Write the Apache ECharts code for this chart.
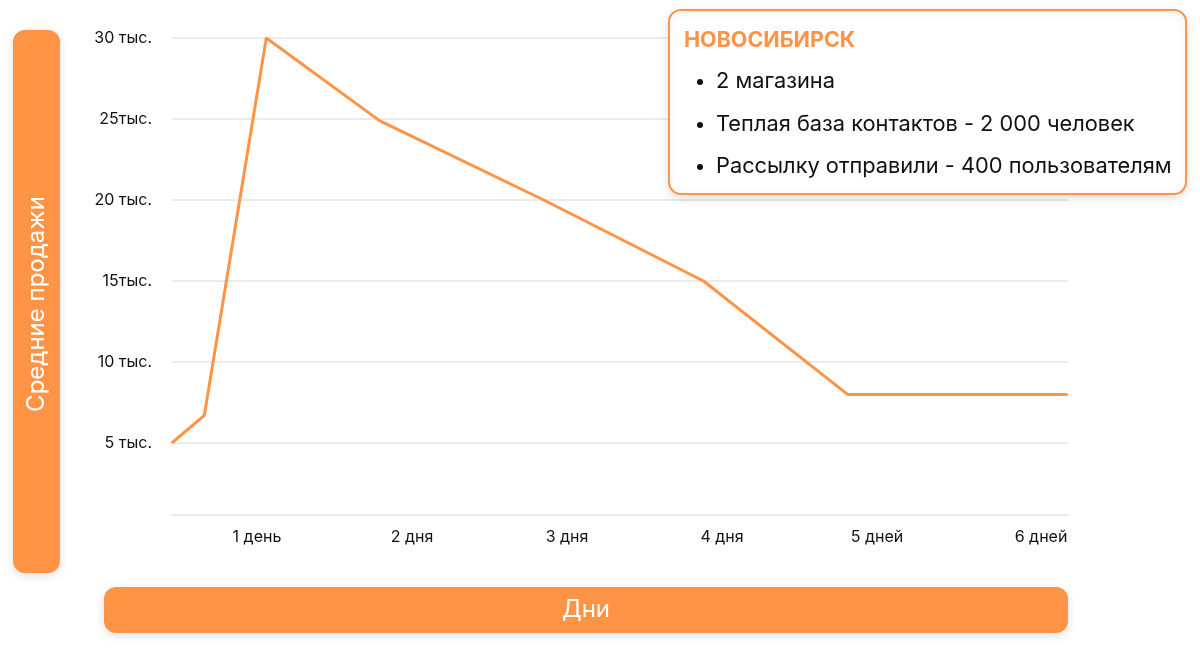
<!DOCTYPE html>
<html>
<head>
<meta charset="utf-8">
<script src="https://cdn.jsdelivr.net/npm/echarts@6/dist/echarts.min.js"></script>
<style>
html,body{margin:0;padding:0;background:#fff;}
#chart{width:1200px;height:650px;}
</style>
</head>
<body>
<div id="chart"></div>
<script>
// ---- data ----
const dayPositions = [0.45, 0.66, 1.06, 1.79, 2.85, 3.88, 4.81, 6.23];
const avgSales = [5000, 6700, 30000, 24900, 20000, 15000, 8000, 8000];
const xTickValues = [1, 2, 3, 4, 5, 6];
const xTickLabels = ['1 день', '2 дня', '3 дня', '4 дня', '5 дней', '6 дней'];
const yTickValues = [5000, 10000, 15000, 20000, 25000, 30000];
const yTickLabels = ['5 тыс.', '10 тыс.', '15тыс.', '20 тыс.', '25тыс.', '30 тыс.'];
const yAxisTitle = 'Средние продажи';
const xAxisTitle = 'Дни';
const infoTitle = 'НОВОСИБИРСК';
const infoItems = ['2 магазина', 'Теплая база контактов - 2 000 человек', 'Рассылку отправили - 400 пользователям'];

const ORANGE = '#ff9447';
const GRID = '#e4e4e4';
const FONT = 'Inter, Roboto, sans-serif';

const chart = echarts.init(document.getElementById('chart'));

const shadow = {shadowBlur: 10, shadowColor: 'rgba(0,0,0,0.12)', shadowOffsetY: 3};

const graphics = [
  {type: 'rect', shape: {x: 13, y: 30, width: 47, height: 543, r: 12}, style: Object.assign({fill: ORANGE}, shadow), z: 10},
  {type: 'text', x: 37, y: 304, rotation: Math.PI / 2, style: {text: yAxisTitle, fill: '#fff', font: '24px ' + FONT, textAlign: 'center', textVerticalAlign: 'middle'}, z: 11},
  {type: 'rect', shape: {x: 104, y: 587, width: 964, height: 46, r: 12}, style: Object.assign({fill: ORANGE}, shadow), z: 10},
  {type: 'text', x: 586, y: 610, style: {text: xAxisTitle, fill: '#fff', font: '24px ' + FONT, textAlign: 'center', textVerticalAlign: 'middle'}, z: 11},
  {type: 'rect', shape: {x: 669, y: 10, width: 517, height: 184, r: 12}, style: Object.assign({fill: '#fff', stroke: ORANGE, lineWidth: 2}, shadow), z: 10},
  {type: 'text', x: 684, y: 41, style: {text: infoTitle, fill: ORANGE, font: 'bold 21.5px ' + FONT, textAlign: 'left', textVerticalAlign: 'middle'}, z: 11}
];
const itemYs = [81, 124, 166];
infoItems.forEach((t, i) => {
  graphics.push({type: 'circle', shape: {cx: 700, cy: itemYs[i] + 1, r: 3}, style: {fill: '#111'}, z: 11});
  graphics.push({type: 'text', x: 716, y: itemYs[i], style: {text: t, fill: '#111', font: '21.8px ' + FONT, textAlign: 'left', textVerticalAlign: 'middle'}, z: 11});
});

chart.setOption({
  animation: false,
  backgroundColor: '#fff',
  grid: {left: 172, right: 132, top: 38, bottom: 126, containLabel: false},
  xAxis: {
    type: 'value',
    min: 0.4516,
    max: 6.232,
    offset: -9,
    axisLine: {show: true, onZero: false, lineStyle: {color: GRID, width: 1.5}},
    axisTick: {show: false},
    splitLine: {show: false},
    axisLabel: {
      customValues: xTickValues,
      formatter: v => {
        const i = xTickValues.indexOf(Math.round(v));
        if (i < 0) return '';
        return i === xTickValues.length - 1 ? '{last|' + xTickLabels[i] + '}' : xTickLabels[i];
      },
      rich: {last: {padding: [0, 0, 0, 18], color: '#111', fontFamily: FONT, fontSize: 16}},
      color: '#111',
      fontFamily: FONT,
      fontSize: 16,
      margin: 14
    }
  },
  yAxis: {
    type: 'value',
    min: 0,
    max: 30000,
    interval: 5000,
    axisLine: {show: false},
    axisTick: {show: false},
    splitLine: {show: true, lineStyle: {color: ['rgba(0,0,0,0)', GRID, GRID, GRID, GRID, GRID, GRID], width: 1.5}},
    axisLabel: {
      formatter: v => { const i = yTickValues.indexOf(v); return i >= 0 ? yTickLabels[i] : ''; },
      color: '#111',
      fontFamily: FONT,
      fontSize: 16,
      margin: 20
    }
  },
  series: [{
    type: 'line',
    data: dayPositions.map((d, i) => [d, avgSales[i]]),
    symbol: 'none',
    lineStyle: {color: ORANGE, width: 3},
    z: 3
  }],
  graphic: graphics
});
</script>
</body>
</html>
